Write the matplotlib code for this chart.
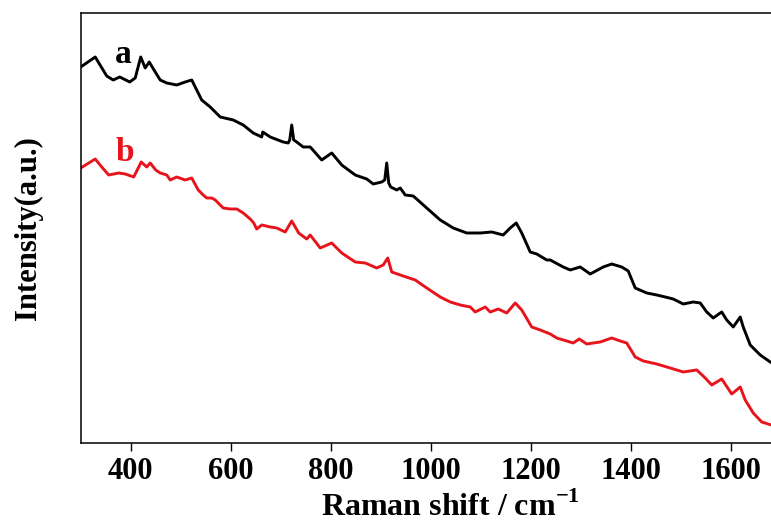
import matplotlib
matplotlib.use("Agg")
import matplotlib.pyplot as plt

plt.rcParams['font.family'] = ['Liberation Serif', 'DejaVu Serif']
plt.rcParams['font.weight'] = 'bold'
plt.rcParams['mathtext.fontset'] = 'custom'
plt.rcParams['mathtext.rm'] = 'Liberation Serif:bold'
plt.rcParams['mathtext.bf'] = 'Liberation Serif:bold'

# spectrum a (black): Raman shift / intensity (a.u.)
shift_a = [300, 329, 352, 365, 378, 398, 409, 420, 429, 437, 449, 459, 472, 492, 509,
           522, 532, 542, 559, 579, 605, 625, 645, 662, 664, 679, 705, 715, 718, 722,
           726, 732, 745, 759, 782, 802, 822, 849, 872, 885, 902, 908, 912, 916, 920,
           932, 939, 949, 965, 992, 1019, 1045, 1072, 1099, 1122, 1145, 1159, 1171, 1182,
           1199, 1212, 1232, 1239, 1265, 1279, 1299, 1319, 1345, 1362, 1382, 1395, 1409,
           1432, 1452, 1469, 1485, 1505, 1525, 1539, 1552, 1565, 1582, 1592, 1605, 1619,
           1625, 1639, 1659, 1679]
pix_a = [67, 57, 76, 80, 77, 82, 78, 57, 68, 62, 72, 80, 83, 85, 82,
         80, 90, 100, 107, 117, 120, 125, 133, 137, 132, 137, 142, 143, 140, 125,
         140, 142, 147, 147, 160, 153, 165, 175, 179, 184, 182, 180, 163, 183, 187,
         190, 188, 195, 196, 208, 220, 228, 233, 233, 232, 235, 228, 223, 233,
         252, 254, 260, 260, 267, 270, 267, 274, 267, 264, 267, 271, 288,
         293, 295, 297, 299, 304, 302, 303, 312, 318, 312, 320, 327, 317,
         327, 345, 355, 362]
intensity_a = [443 - p for p in pix_a]

# spectrum b (red)
shift_b = [300, 329, 342, 356, 376, 389, 406, 421, 432, 439, 450, 459, 472, 479, 492,
           509, 522, 535, 545, 552, 562, 569, 585, 599, 612, 625, 639, 646, 652, 662,
           679, 692, 709, 722, 736, 752, 759, 779, 802, 822, 849, 869, 892, 905, 914,
           922, 939, 969, 992, 1019, 1039, 1059, 1079, 1089, 1109, 1119, 1135, 1152, 1169,
           1182, 1202, 1219, 1239, 1252, 1285, 1297, 1312, 1339, 1362, 1379, 1392, 1409,
           1425, 1452, 1479, 1505, 1532, 1549, 1562, 1582, 1602, 1619, 1629, 1645, 1662,
           1681]
pix_b = [168, 159, 167, 175, 173, 174, 177, 162, 167, 163, 170, 173, 175, 180, 177,
         180, 178, 190, 195, 198, 198, 200, 208, 209, 209, 213, 219, 223, 229, 225,
         227, 228, 232, 221, 233, 239, 235, 248, 243, 253, 262, 263, 268, 265, 258,
         272, 275, 280, 288, 297, 302, 305, 307, 312, 307, 312, 309, 313, 303,
         310, 327, 330, 334, 338, 343, 339, 344, 342, 338, 341, 343, 357,
         361, 364, 368, 372, 370, 378, 385, 379, 394, 387, 400, 413, 422,
         425]
intensity_b = [443 - p for p in pix_b]

xticks = [400, 600, 800, 1000, 1200, 1400, 1600]

fig = plt.figure(figsize=(7.71, 5.24), dpi=100)
# axes run past the right edge of the canvas, as in the cropped original
ax = fig.add_axes([0.1047, 0.1546, 0.9598, 0.8206])

ax.plot(shift_a, intensity_a, color='black', lw=2.1)
ax.plot(shift_b, intensity_b, color='#e8141c', lw=2.1)

ax.text(385, 443 - 55, 'a', color='black', fontsize=24, fontweight='bold',
        ha='center', va='center')
ax.text(389, 443 - 153, 'b', color='#e8141c', fontsize=24, fontweight='bold',
        ha='center', va='center')

ax.set_xlim(300, 1780)
ax.set_ylim(0, 430)
ax.set_xticks(xticks)
ax.set_yticks([])
ax.tick_params(axis='x', direction='out', length=6, width=1, labelsize=22, pad=4)
for s in ax.spines.values():
    s.set_linewidth(1.1)

ax.set_xlabel(r'Raman shift / cm$^{-1}$', fontsize=23, fontweight='bold', labelpad=4)
ax.set_ylabel('Intensity(a.u.)', fontsize=22, fontweight='bold', labelpad=27)

fig.savefig('out.png', dpi=100)
